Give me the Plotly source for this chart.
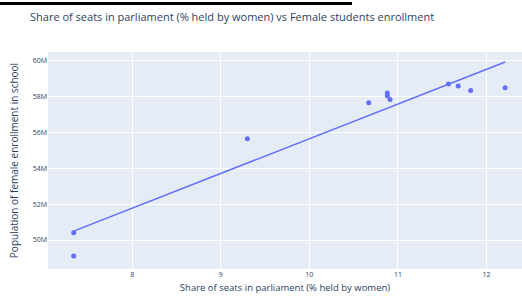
import numpy as np
import plotly.graph_objects as go

seats_share = [7.34, 7.34, 9.30, 10.67, 10.88, 10.88, 10.91, 11.57, 11.68, 11.82, 12.21]
female_enrollment = [49.11e6, 50.41e6, 55.65e6, 57.66e6, 58.21e6, 58.06e6, 57.85e6, 58.71e6, 58.60e6, 58.35e6, 58.50e6]

x = np.array(seats_share)
y = np.array(female_enrollment)
slope, intercept = np.polyfit(x, y, 1)
xs = np.array([x.min(), x.max()])
ys = slope * xs + intercept

fig = go.Figure()
fig.add_trace(go.Scatter(x=seats_share, y=female_enrollment, mode="markers",
                         marker=dict(color="#636efa", size=5), showlegend=False))
fig.add_trace(go.Scatter(x=xs, y=ys, mode="lines",
                         line=dict(color="#636efa", width=1.5), showlegend=False))

fig.update_layout(
    width=522, height=297,
    margin=dict(l=48, r=0, t=52, b=28),
    paper_bgcolor="white", plot_bgcolor="#E5ECF6",
    font=dict(family="Open Sans, Verdana, Arial, sans-serif", color="#2a3f5f"),
    title=dict(text="Share of seats in parliament (% held by women) vs Female students enrollment",
               x=30/522, xanchor="left", y=1-17/297, yanchor="middle",
               font=dict(size=11, color="#2a3f5f")),
    xaxis=dict(title=dict(text="Share of seats in parliament (% held by women)", font=dict(size=9.5), standoff=6),
               range=[7.05, 12.4], tickvals=[8, 9, 10, 11, 12], tickfont=dict(size=7),
               gridcolor="white", zeroline=False, showline=False),
    yaxis=dict(title=dict(text="Population of female enrollment in school", font=dict(size=10), standoff=12),
               range=[48.38e6, 60.5e6], tickvals=[50e6, 52e6, 54e6, 56e6, 58e6, 60e6],
               ticktext=["50M", "52M", "54M", "56M", "58M", "60M"], tickfont=dict(size=7),
               gridcolor="white", zeroline=False, showline=False),
    shapes=[dict(type="rect", xref="paper", yref="paper",
                 x0=-48/474, x1=(352-48)/474, y0=(269-5)/217, y1=(269-2)/217,
                 fillcolor="black", line=dict(width=0))],
)
fig.write_html("out.html", config={"displayModeBar": False},
               post_script="document.body.style.margin='0';document.body.style.overflow='hidden';")
